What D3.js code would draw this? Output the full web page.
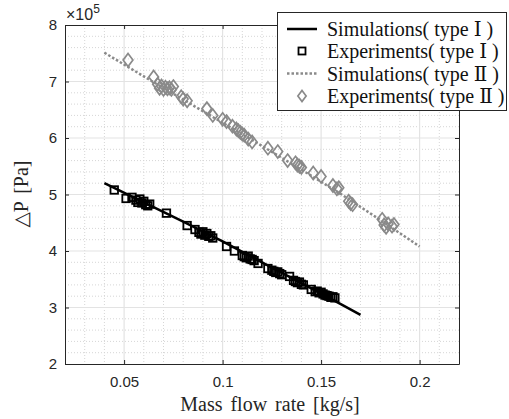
<!DOCTYPE html>
<html>
<head>
<meta charset="utf-8">
<script src="https://cdn.jsdelivr.net/npm/d3@7"></script>
<style>
  body { margin: 0; background: #fff; }
  svg { display: block; }
</style>
</head>
<body>
<svg id="chart" width="509" height="419"></svg>
<script>
// simulation curves (x in kg/s, dP in 1e5 Pa)
var simI_x = [0.04, 0.06, 0.08, 0.10, 0.12, 0.14, 0.16, 0.17];
var simI_y = [5.20, 4.86, 4.52, 4.17, 3.80, 3.43, 3.06, 2.87];
var simII_x = [0.04, 0.06, 0.08, 0.10, 0.12, 0.14, 0.16, 0.18, 0.20];
var simII_y = [7.51, 7.09, 6.68, 6.27, 5.86, 5.44, 5.01, 4.55, 4.08];

// experiments type I
var expI_x = [0.045, 0.051, 0.054, 0.056, 0.057, 0.058, 0.059, 0.060, 0.061, 0.062, 0.063,
              0.0715, 0.082, 0.086, 0.088, 0.089, 0.090, 0.091, 0.092, 0.093, 0.094, 0.095,
              0.102, 0.106, 0.110, 0.111, 0.112, 0.113, 0.114, 0.115, 0.116, 0.118,
              0.123, 0.125, 0.126, 0.127, 0.128, 0.129, 0.130, 0.134, 0.136, 0.137, 0.138,
              0.139, 0.140, 0.141, 0.145, 0.147, 0.148, 0.149, 0.150, 0.151, 0.152, 0.153,
              0.154, 0.155, 0.156, 0.157];
var expI_y = [5.08, 4.93, 4.95, 4.90, 4.86, 4.92, 4.85, 4.88, 4.82, 4.80, 4.83,
              4.67, 4.45, 4.38, 4.33, 4.30, 4.34, 4.28, 4.31, 4.26, 4.27, 4.23,
              4.08, 4.00, 3.92, 3.90, 3.88, 3.91, 3.86, 3.85, 3.83, 3.78,
              3.69, 3.66, 3.64, 3.62, 3.63, 3.60, 3.58, 3.55, 3.48, 3.46, 3.44,
              3.45, 3.41, 3.40, 3.32, 3.28, 3.29, 3.26, 3.27, 3.24, 3.22, 3.21,
              3.20, 3.18, 3.19, 3.17];

// experiments type II
var expII_x = [0.052, 0.065, 0.067, 0.068, 0.069, 0.070, 0.071, 0.072, 0.073, 0.074, 0.075,
               0.079, 0.080, 0.082, 0.092, 0.095, 0.100, 0.102, 0.105, 0.107, 0.108, 0.109,
               0.110, 0.111, 0.113, 0.115, 0.123, 0.128, 0.133, 0.137, 0.138, 0.139, 0.140,
               0.146, 0.150, 0.156, 0.158, 0.159, 0.164, 0.165, 0.166, 0.181, 0.182, 0.183,
               0.184, 0.186, 0.187];
var expII_y = [7.38, 7.08, 6.95, 6.88, 6.92, 6.86, 6.90, 6.87, 6.89, 6.86, 6.91,
               6.73, 6.69, 6.66, 6.52, 6.40, 6.33, 6.29, 6.21, 6.16, 6.13, 6.10,
               6.07, 6.05, 5.98, 5.93, 5.82, 5.76, 5.60, 5.56, 5.52, 5.50, 5.48,
               5.38, 5.32, 5.16, 5.10, 5.12, 4.88, 4.84, 4.82, 4.56, 4.46, 4.42,
               4.48, 4.44, 4.47];

var xTicks = [0.05, 0.1, 0.15, 0.2];
var xTickLabels = ["0.05", "0.1", "0.15", "0.2"];
var yTicks = [2, 3, 4, 5, 6, 7, 8];
var yTickLabels = ["2", "3", "4", "5", "6", "7", "8"];
var legendLabels = ["Simulations( type \u2160 )", "Experiments( type \u2160 )",
                    "Simulations( type \u2161 )", "Experiments( type \u2161 )"];

var svg = d3.select("#chart");
var margin = {left: 65, right: 50, top: 25, bottom: 55};
var width = 509 - margin.left - margin.right,
    height = 419 - margin.top - margin.bottom;

var x = d3.scaleLinear().domain([0.02, 0.22]).range([0, width]);
var y = d3.scaleLinear().domain([2, 8]).range([height, 0]);

var axisColor = "#262626";
var gray = "#8a8a8a";
var serif = "'Liberation Serif', 'DejaVu Serif', serif";
var sans = "'Liberation Sans', Arial, sans-serif";

var g = svg.append("g")
    .attr("transform", "translate(" + margin.left + "," + margin.top + ")");

// minor grid
var xMinor = d3.range(3, 22).map(function(d){ return d / 100; })
    .filter(function(d){ return Math.abs(d * 20 - Math.round(d * 20)) > 1e-6; });
var yMinor = d3.range(10, 41).map(function(d){ return d / 5; })
    .filter(function(d){ return Math.abs(d - Math.round(d)) > 1e-6; });

g.selectAll(".xminor").data(xMinor).enter().append("line")
    .attr("x1", function(d){ return x(d); }).attr("x2", function(d){ return x(d); })
    .attr("y1", 0).attr("y2", height)
    .attr("stroke", "#d6d6d6").attr("stroke-width", 1)
    .attr("stroke-dasharray", "1,2");
g.selectAll(".yminor").data(yMinor).enter().append("line")
    .attr("x1", 0).attr("x2", width)
    .attr("y1", function(d){ return y(d); }).attr("y2", function(d){ return y(d); })
    .attr("stroke", "#d6d6d6").attr("stroke-width", 1)
    .attr("stroke-dasharray", "1,2");

// major grid
g.selectAll(".xmajor").data(xTicks).enter().append("line")
    .attr("x1", function(d){ return x(d); }).attr("x2", function(d){ return x(d); })
    .attr("y1", 0).attr("y2", height)
    .attr("stroke", "#e3e3e3").attr("stroke-width", 1.2);
g.selectAll(".ymajor").data(yTicks.slice(1, -1)).enter().append("line")
    .attr("x1", 0).attr("x2", width)
    .attr("y1", function(d){ return y(d); }).attr("y2", function(d){ return y(d); })
    .attr("stroke", "#e3e3e3").attr("stroke-width", 1.2);

// axes
g.append("g")
    .attr("transform", "translate(0," + height + ")")
    .call(d3.axisBottom(x).tickValues(xTicks)
        .tickFormat(function(d, i){ return xTickLabels[i]; })
        .tickSizeInner(-4).tickSizeOuter(0).tickPadding(12));
g.append("g")
    .call(d3.axisLeft(y).tickValues(yTicks)
        .tickFormat(function(d, i){ return yTickLabels[i]; })
        .tickSizeInner(-4).tickSizeOuter(0).tickPadding(8));
g.append("g")
    .call(d3.axisTop(x).tickValues(xTicks).tickFormat("").tickSizeInner(-4).tickSizeOuter(0));
g.append("g")
    .attr("transform", "translate(" + width + ",0)")
    .call(d3.axisRight(y).tickValues(yTicks).tickFormat("").tickSizeInner(-4).tickSizeOuter(0));

g.selectAll(".domain").attr("stroke", axisColor).attr("stroke-width", 1);
g.selectAll(".tick line").attr("stroke", axisColor);
g.selectAll(".tick text")
    .attr("fill", axisColor)
    .style("font-family", sans)
    .style("font-size", "15px");

// exponent
var expo = g.append("text")
    .attr("x", 1).attr("y", -5)
    .attr("fill", axisColor)
    .style("font-family", sans)
    .style("font-size", "16px");
expo.append("tspan").text("\u00d710");
expo.append("tspan").attr("dy", -7).style("font-size", "12px").text("5");

// simulation lines
var line = d3.line()
    .x(function(d){ return x(d[0]); })
    .y(function(d){ return y(d[1]); });

g.append("path")
    .datum(d3.zip(simII_x, simII_y))
    .attr("fill", "none").attr("stroke", gray)
    .attr("stroke-width", 2.5).attr("stroke-dasharray", "2.5,2")
    .attr("d", line);

g.append("path")
    .datum(d3.zip(simI_x, simI_y))
    .attr("fill", "none").attr("stroke", "#000")
    .attr("stroke-width", 2.5)
    .attr("d", line);

// experiment markers
var sq = 7.5;
g.selectAll(".expI").data(d3.zip(expI_x, expI_y)).enter().append("rect")
    .attr("x", function(d){ return x(d[0]) - sq / 2; })
    .attr("y", function(d){ return y(d[1]) - sq / 2; })
    .attr("width", sq).attr("height", sq)
    .attr("fill", "none").attr("stroke", "#000").attr("stroke-width", 1.8);

var diamond = function(cx, cy, r){
    return "M" + cx + "," + (cy - r) + "L" + (cx + r * 0.75) + "," + cy +
           "L" + cx + "," + (cy + r) + "L" + (cx - r * 0.75) + "," + cy + "Z";
};
g.selectAll(".expII").data(d3.zip(expII_x, expII_y)).enter().append("path")
    .attr("d", function(d){ return diamond(x(d[0]), y(d[1]), 6.5); })
    .attr("fill", "none").attr("stroke", gray).attr("stroke-width", 1.7);

// axis labels
svg.append("text")
    .attr("x", 270).attr("y", 411)
    .attr("text-anchor", "middle")
    .attr("fill", axisColor)
    .style("font-family", serif)
    .style("font-size", "20px")
    .style("word-spacing", "3px")
    .text("Mass flow rate [kg/s]");

svg.append("text")
    .attr("transform", "translate(28,194) rotate(-90)")
    .attr("text-anchor", "middle")
    .attr("fill", axisColor)
    .style("font-family", serif)
    .style("font-size", "20px")
    .style("word-spacing", "3px")
    .text("\u25b3P [Pa]");

// legend
var lg = svg.append("g");
lg.append("rect")
    .attr("x", 277.5).attr("y", 12.5).attr("width", 229).attr("height", 98)
    .attr("fill", "#fff").attr("stroke", axisColor).attr("stroke-width", 1);

var rowY = [29, 51, 73.5, 96];
lg.append("line").attr("x1", 287).attr("x2", 317).attr("y1", rowY[0]).attr("y2", rowY[0])
    .attr("stroke", "#000").attr("stroke-width", 2.5);
lg.append("rect").attr("x", 302 - 3.5).attr("y", rowY[1] - 3.5).attr("width", 7).attr("height", 7)
    .attr("fill", "none").attr("stroke", "#000").attr("stroke-width", 1.8);
lg.append("line").attr("x1", 287).attr("x2", 317).attr("y1", rowY[2]).attr("y2", rowY[2])
    .attr("stroke", gray).attr("stroke-width", 2.5).attr("stroke-dasharray", "2.5,2");
lg.append("path").attr("d", diamond(302, rowY[3], 5.5))
    .attr("fill", "none").attr("stroke", gray).attr("stroke-width", 1.7);

lg.selectAll(".lt").data(legendLabels).enter().append("text")
    .attr("x", 327)
    .attr("y", function(d, i){ return rowY[i]; })
    .attr("dy", "0.35em")
    .attr("fill", "#111")
    .style("font-family", serif)
    .style("font-size", "20px")
    .text(function(d){ return d; });
</script>
</body>
</html>
